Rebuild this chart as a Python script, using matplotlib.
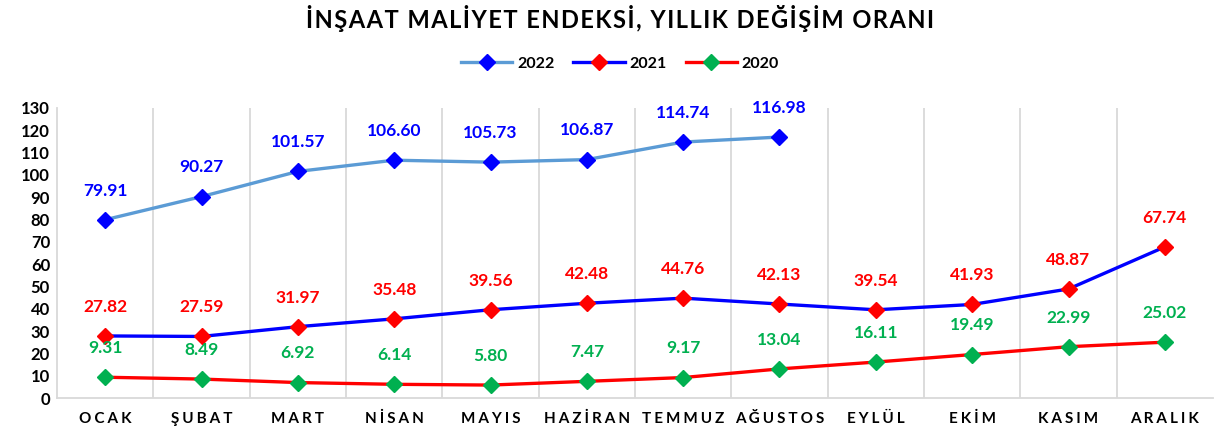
import matplotlib
matplotlib.use("Agg")
import matplotlib.pyplot as plt
from matplotlib.lines import Line2D

months = ["OCAK", "ŞUBAT", "MART", "NİSAN", "MAYIS", "HAZİRAN",
          "TEMMUZ", "AĞUSTOS", "EYLÜL", "EKİM", "KASIM", "ARALIK"]
v2022 = [79.91, 90.27, 101.57, 106.60, 105.73, 106.87, 114.74, 116.98]
v2021 = [27.82, 27.59, 31.97, 35.48, 39.56, 42.48, 44.76, 42.13, 39.54, 41.93, 48.87, 67.74]
v2020 = [9.31, 8.49, 6.92, 6.14, 5.80, 7.47, 9.17, 13.04, 16.11, 19.49, 22.99, 25.02]
yticks = list(range(0, 131, 10))
title = "İNŞAAT MALİYET ENDEKSİ, YILLIK DEĞİŞİM ORANI"

FAM = ["Lato", "DejaVu Sans"]
plt.rcParams["font.family"] = FAM

HS = "\u200a"
def spaced(s, sep=HS):
    return sep.join(list(s))

W, H = 1215, 436
fig = plt.figure(figsize=(W / 100, H / 100), dpi=100)
ax = fig.add_axes([57 / W, 38 / H, (1213 - 57) / W, 290 / H])

series = [
    ("2022", v2022, "#5B9BD5", "#0000FF", "#0000FF"),
    ("2021", v2021, "#0000FF", "#FF0000", "#FF0000"),
    ("2020", v2020, "#FF0000", "#00B050", "#00B050"),
]
handles = []
for name, vals, lc, mc, tc in series:
    x = list(range(len(vals)))
    ax.plot(x, vals, color=lc, lw=2.4, marker="D", ms=8, mfc=mc, mec=mc,
            zorder=3, solid_capstyle="round")
    for xi, v in zip(x, vals):
        ax.annotate(f"{v:.2f}", (xi, v), xytext=(0, 21), textcoords="offset points",
                    ha="center", va="center", color=tc, fontsize=12.5,
                    fontweight="bold")
    handles.append(Line2D([], [], color=lc, lw=2.4, marker="D", ms=8, mfc=mc, mec=mc))

ax.set_xlim(-0.5, 11.5)
ax.set_ylim(0, 130)
ax.set_yticks(yticks)
ax.set_yticklabels([str(t) for t in yticks], fontsize=12, fontweight="bold")
ax.set_xticks(range(12))
ax.set_xticklabels([spaced(m, HS * 3) for m in months], fontsize=11, fontweight="bold")
ax.tick_params(axis="both", length=0, colors="#000000")
ax.tick_params(axis="x", pad=10)
ax.tick_params(axis="y", pad=5)
for k in range(1, 12):
    ax.axvline(k - 0.5, color="#D9D9D9", lw=1.3, zorder=1)
for s in ["top", "right"]:
    ax.spines[s].set_visible(False)
for s in ["left", "bottom"]:
    ax.spines[s].set_color("#D9D9D9")
    ax.spines[s].set_linewidth(1.3)

fig.text(620 / W, 1 - 18 / H, spaced(title, HS), ha="center", va="center",
         fontsize=17, fontweight="bold", color="#000000")
fig.legend(handles, ["2022", "2021", "2020"], loc="center", bbox_to_anchor=(620 / W, 1 - 64 / H),
           ncol=3, frameon=False, prop={"weight": "bold", "size": 11.5},
           handlelength=3.2, columnspacing=1.2, handletextpad=0.3)

fig.savefig("out.png", dpi=100)
